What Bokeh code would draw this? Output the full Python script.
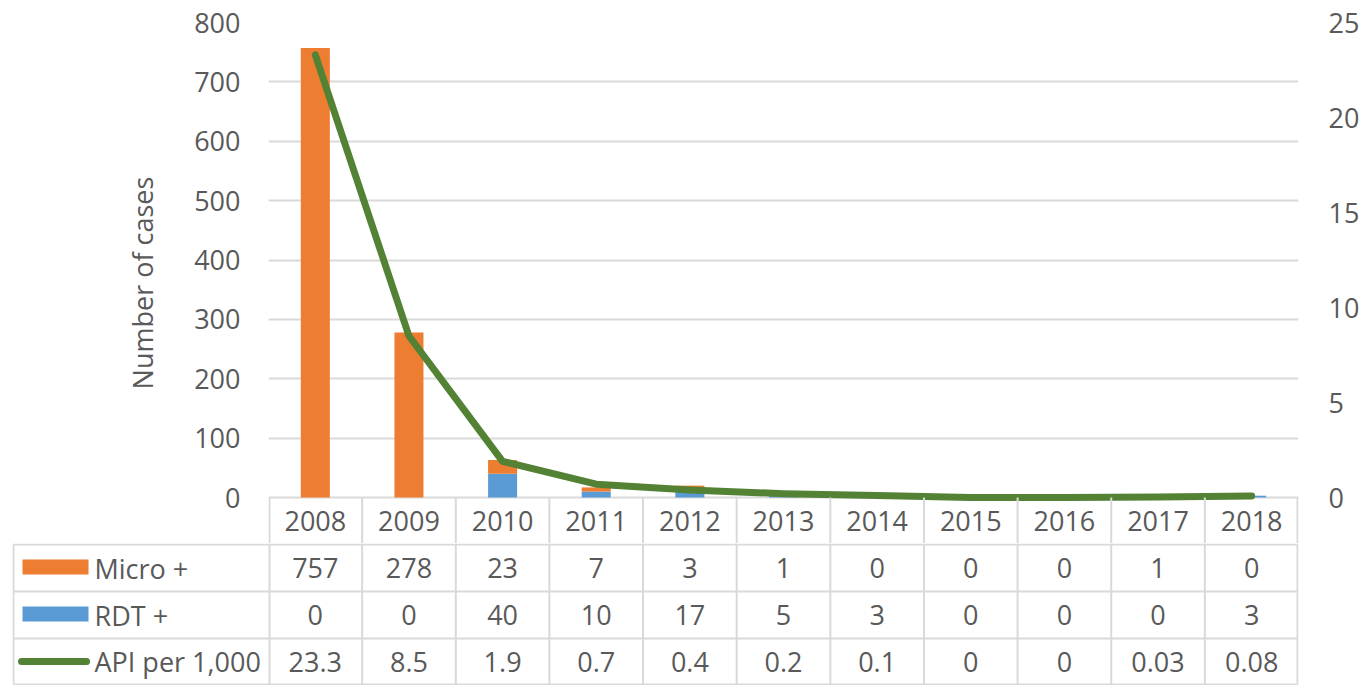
from bokeh.plotting import figure
from bokeh.models import ColumnDataSource, Range1d, LinearAxis, FixedTicker
from bokeh.embed import file_html
from bokeh.resources import INLINE
from bokeh.core.properties import value

# ---- data ----
years = ["2008", "2009", "2010", "2011", "2012", "2013", "2014", "2015", "2016", "2017", "2018"]
micro = [757, 278, 23, 7, 3, 1, 0, 0, 0, 1, 0]
rdt = [0, 0, 40, 10, 17, 5, 3, 0, 0, 0, 3]
api = [23.3, 8.5, 1.9, 0.7, 0.4, 0.2, 0.1, 0, 0, 0.03, 0.08]
api_labels = ["23.3", "8.5", "1.9", "0.7", "0.4", "0.2", "0.1", "0", "0", "0.03", "0.08"]
left_ticks = [0, 100, 200, 300, 400, 500, 600, 700, 800]
right_ticks = [0, 5, 10, 15, 20, 25]
series_names = ["Micro +", "RDT +", "API per 1,000"]
y_title = "Number of cases"

# ---- style ----
FONT = "Open Sans"
FS = "27px"
TXT = "#595959"
GRID = "#D9D9D9"
ORANGE = "#ED7D31"
BLUE = "#5B9BD5"
GREEN = "#548235"

n = len(years)
xs = list(range(n))
src = ColumnDataSource(dict(x=xs, year=years, micro=micro, rdt=rdt, api=api,
                            micro_s=[str(v) for v in micro], rdt_s=[str(v) for v in rdt],
                            api_s=api_labels))

W = 1363
FRAME_L = 268
FRAME_R = 1298
CW = (FRAME_R - FRAME_L) / n   # px per category
PPU = 475.0 / 800.0            # px per case
HEADER_PX = 46
ymin = -HEADER_PX / PPU
API_SCALE = 800.0 / 25.0

top = figure(width=W, height=543, x_range=Range1d(-0.5, n - 0.5), y_range=Range1d(ymin, 800),
             output_backend="svg", toolbar_location=None, x_axis_location=None,
             min_border_left=FRAME_L, min_border_right=W - FRAME_R, min_border_top=22,
             min_border_bottom=0,
             outline_line_color=None, background_fill_color="white", border_fill_color="white")
top.extra_y_ranges = {"api": Range1d(ymin / API_SCALE, 25)}

top.xgrid.visible = False
top.ygrid.ticker = FixedTicker(ticks=left_ticks)
top.ygrid.grid_line_color = GRID
top.ygrid.grid_line_width = 2

ax = top.yaxis[0]
ax.ticker = FixedTicker(ticks=left_ticks)
ax.axis_line_color = None
ax.major_tick_line_color = None
ax.minor_tick_line_color = None
ax.major_tick_out = 0
ax.major_label_standoff = 28
ax.major_label_text_font = FONT
ax.major_label_text_font_size = FS
ax.major_label_text_color = TXT
ax.axis_label = y_title
ax.axis_label_text_font = FONT
ax.axis_label_text_font_size = FS
ax.axis_label_text_font_style = "normal"
ax.axis_label_text_color = TXT
ax.axis_label_standoff = 30

rax = LinearAxis(y_range_name="api", ticker=FixedTicker(ticks=right_ticks))
rax.axis_line_color = None
rax.major_tick_line_color = None
rax.minor_tick_line_color = None
rax.major_tick_out = 0
rax.major_label_standoff = 30
rax.major_label_text_font = FONT
rax.major_label_text_font_size = FS
rax.major_label_text_color = TXT
top.add_layout(rax, "right")

# stacked bars: RDT at bottom, Micro on top
top.vbar_stack(["rdt", "micro"], x="x", width=0.31, color=[BLUE, ORANGE], line_color=None, source=src)

# API line on right axis
top.line(x="x", y="api", source=src, y_range_name="api", line_color=GREEN, line_width=7,
         line_cap="round", line_join="round")

# header row (years) with cell borders
eps = 1.0 / CW
vx = [-0.5 + i for i in range(n + 1)]
vx[0] += eps
vx[-1] -= eps
top.segment(x0=vx, x1=vx, y0=[0] * len(vx), y1=[ymin] * len(vx), line_color=GRID, line_width=2)
top.text(x="x", y=ymin / 2, text="year", source=src, text_font=value(FONT), text_font_size=FS,
         text_color=TXT, text_align="center", text_baseline="middle")

# ---- table ----
TL = 12
XL = -0.5 - (FRAME_L - TL) / CW
H = 142
bot = figure(width=W, height=H, x_range=Range1d(XL, n - 0.5), y_range=Range1d(0, H),
             output_backend="svg", toolbar_location=None, x_axis_location=None, y_axis_location=None,
             min_border_left=TL, min_border_right=W - FRAME_R, min_border_top=0, min_border_bottom=0,
             outline_line_color=None, background_fill_color="white", border_fill_color="white")
bot.grid.visible = False

hy = [141, 94, 47, 1]
bot.segment(x0=[XL + eps] * 4, x1=[n - 0.5 - eps] * 4, y0=hy, y1=hy, line_color=GRID, line_width=2)
bx = [XL + eps] + vx[:-1] + [vx[-1]]
bot.segment(x0=bx, x1=bx, y0=[1] * len(bx), y1=[141] * len(bx), line_color=GRID, line_width=2)

row_c = [(hy[i] + hy[i + 1]) / 2 for i in range(3)]

def px2x(px):
    return XL + (px - TL) / CW

# legend keys
sw_c = px2x(55)
sw_w = 66 / CW
bot.rect(x=[sw_c, sw_c], y=[row_c[0] + 1, row_c[1] + 1], width=sw_w, height=15,
         fill_color=[ORANGE, BLUE], line_color=None)
bot.segment(x0=[px2x(21)], x1=[px2x(86)], y0=[row_c[2]], y1=[row_c[2]], line_color=GREEN,
            line_width=7, line_cap="round")
bot.text(x=[px2x(94)] * 3, y=row_c, text=series_names, text_font=value(FONT), text_font_size=FS,
         text_color=TXT, text_align="left", text_baseline="middle")

for col, yc in zip(["micro_s", "rdt_s", "api_s"], row_c):
    bot.text(x="x", y=yc, text=col, source=src, text_font=value(FONT), text_font_size=FS,
             text_color=TXT, text_align="center", text_baseline="middle")

open("out.html", "w").write(file_html([top, bot], INLINE))
